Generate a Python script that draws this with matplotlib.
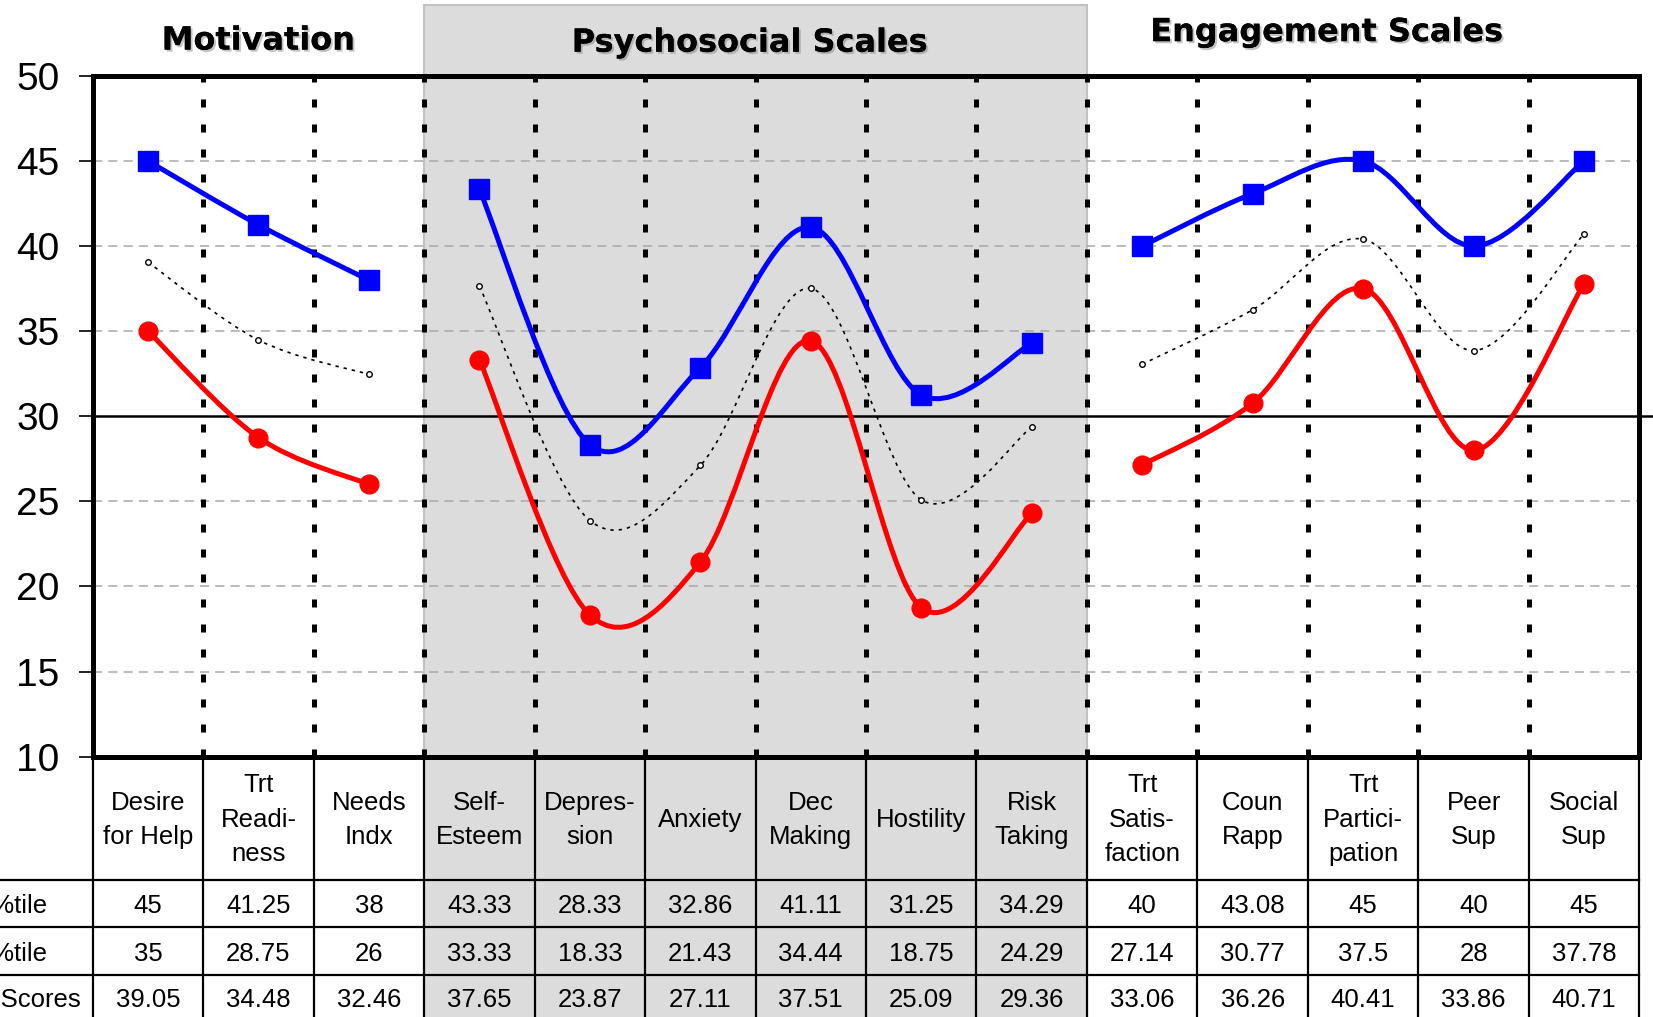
import matplotlib
matplotlib.use("Agg")
import matplotlib.pyplot as plt
from matplotlib.path import Path
from matplotlib.patches import PathPatch, Rectangle
from matplotlib.transforms import blended_transform_factory
import matplotlib.patheffects as pe

# ---- data ----
scales = ["Desire\nfor Help", "Trt\nReadi-\nness", "Needs\nIndx",
          "Self-\nEsteem", "Depres-\nsion", "Anxiety", "Dec\nMaking", "Hostility", "Risk\nTaking",
          "Trt\nSatis-\nfaction", "Coun\nRapp", "Trt\nPartici-\npation", "Peer\nSup", "Social\nSup"]
upper = [45, 41.25, 38, 43.33, 28.33, 32.86, 41.11, 31.25, 34.29, 40, 43.08, 45, 40, 45]
lower = [35, 28.75, 26, 33.33, 18.33, 21.43, 34.44, 18.75, 24.29, 27.14, 30.77, 37.5, 28, 37.78]
means = [39.05, 34.48, 32.46, 37.65, 23.87, 27.11, 37.51, 25.09, 29.36, 33.06, 36.26, 40.41, 33.86, 40.71]
row_names = ["75th %tile", "25th %tile", "Mean Scores"]
groups = [(0, 3), (3, 9), (9, 14)]
group_titles = ["Motivation", "Psychosocial Scales", "Engagement Scales"]

W, H = 1568.0, 965.0
def fx(p):
    return p / W
def fy(p):
    return 1 - p / H

fig = plt.figure(figsize=(16.53, 10.17), dpi=100)
fig.patch.set_facecolor("white")

ax = fig.add_axes([fx(88), fy(718), fx(1555) - fx(88), fy(72) - fy(718)])
ax.set_facecolor("none")
ax.set_xlim(-0.5, 13.5)
ax.set_ylim(10, 50)

axt = fig.add_axes([fx(88), 0, fx(1555) - fx(88), fy(718)])
axt.set_facecolor("none")
axt.set_xlim(-0.5, 13.5)
axt.set_ylim(H, 718)
axt.axis("off")

# shaded psychosocial block
btr = blended_transform_factory(ax.transData, fig.transFigure)
g0, g1 = groups[1]
fig.add_artist(Rectangle((g0 - 0.5, -0.05), g1 - g0, fy(5) + 0.05, transform=btr,
                         facecolor="#dcdcdc", edgecolor="#c2c2c2", lw=1.5, zorder=-5))

# grid
for yv in [15, 20, 25, 35, 40, 45]:
    ax.axhline(yv, color="#a8a8a8", lw=1.1, ls=(0, (6, 4)), zorder=1)
ax.plot([-0.5, 14.5], [30, 30], color="black", lw=1.8, clip_on=False, zorder=2)
for b in range(1, len(scales)):
    ax.axvline(b - 0.5, color="black", lw=3.6, ls=(0, (1.6, 3.4)), dash_capstyle="butt", zorder=2)

def smooth(xs, ys):
    pts = list(zip(xs, ys))
    n = len(pts)
    verts = [pts[0]]
    codes = [Path.MOVETO]
    for i in range(n - 1):
        p0 = pts[i - 1] if i > 0 else pts[i]
        p1 = pts[i]
        p2 = pts[i + 1]
        p3 = pts[i + 2] if i + 2 < n else pts[i + 1]
        c1 = (p1[0] + (p2[0] - p0[0]) / 6, p1[1] + (p2[1] - p0[1]) / 6)
        c2 = (p2[0] - (p3[0] - p1[0]) / 6, p2[1] - (p3[1] - p1[1]) / 6)
        verts += [c1, c2, p2]
        codes += [Path.CURVE4] * 3
    return Path(verts, codes)

for a, b in groups:
    xs = list(range(a, b))
    ax.add_patch(PathPatch(smooth(xs, means[a:b]), fill=False, edgecolor="black",
                           lw=1.2, ls=(0, (2, 3)), zorder=3))
    ax.plot(xs, means[a:b], ls="none", marker="o", ms=4, mfc="white", mec="black", mew=1, zorder=4)
    ax.add_patch(PathPatch(smooth(xs, upper[a:b]), fill=False, edgecolor="#0000ff", lw=3.6, zorder=5))
    ax.plot(xs, upper[a:b], ls="none", marker="s", ms=14, color="#0000ff", zorder=6)
    ax.add_patch(PathPatch(smooth(xs, lower[a:b]), fill=False, edgecolor="#ff0000", lw=3.6, zorder=5))
    ax.plot(xs, lower[a:b], ls="none", marker="o", ms=13.5, color="#ff0000", zorder=6)

ax.set_xticks([])
ax.set_yticks(range(10, 51, 5))
ax.tick_params(axis="y", length=10, width=1.2, pad=14, labelsize=28, direction="out")
for lab in ax.get_yticklabels():
    lab.set_family("Liberation Sans")
for s in ax.spines.values():
    s.set_linewidth(3.6)
    s.set_color("black")
    s.set_zorder(7)

# group titles
shadow = [pe.withSimplePatchShadow(offset=(1.5, -1.5), shadow_rgbFace="#888888", alpha=0.5), pe.Normal()]
title_x = [1.0, 5.45, 10.67]
title_y = [39, 41, 31]
for t, tx, ty in zip(group_titles, title_x, title_y):
    fig.text(tx, fy(ty), t, transform=btr, ha="center", va="center",
             fontsize=23, fontweight="bold", family="DejaVu Sans", path_effects=shadow)

# table
tfont = dict(family="Liberation Sans", fontsize=18.5)
for i, name in enumerate(scales):
    axt.text(i, 778, name, ha="center", va="center", linespacing=1.55, **tfont)
    axt.text(i, 860, f"{upper[i]:g}", ha="center", va="center", **tfont)
    axt.text(i, 905, f"{lower[i]:g}", ha="center", va="center", **tfont)
    axt.text(i, 949, f"{means[i]:g}", ha="center", va="center", **tfont)
label_x = [-0.91, -0.91, -0.605]
for ry, lx, name in zip([860, 905, 949], label_x, row_names):
    axt.text(lx, ry, name, ha="right", va="center", clip_on=False, **tfont)
for ry in [835, 880, 925]:
    axt.plot([-1.5, 13.5], [ry, ry], color="black", lw=1.6, clip_on=False)
for k in range(len(scales) + 1):
    axt.plot([k - 0.5, k - 0.5], [718, H + 10], color="black", lw=1.6, clip_on=False)

fig.savefig("out.png", dpi=100)
